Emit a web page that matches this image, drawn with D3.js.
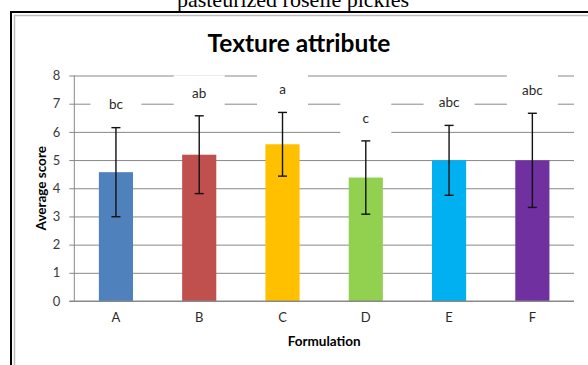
<!DOCTYPE html>
<html>
<head>
<meta charset="utf-8">
<script src="https://cdn.jsdelivr.net/npm/d3@7/dist/d3.min.js"></script>
<style>
  html, body { margin: 0; padding: 0; background: #fff; }
  svg { display: block; }
</style>
</head>
<body>
<svg id="chart" width="588" height="365"></svg>
<script>
// Texture scores per formulation (mean ± SD) with significance letters
const categories = ["A", "B", "C", "D", "E", "F"];
const means = [4.57, 5.19, 5.56, 4.38, 4.99, 4.99];
const sds = [1.58, 1.38, 1.13, 1.30, 1.24, 1.67];
const letters = ["bc", "ab", "a", "c", "abc", "abc"];
const colors = ["#4F81BD", "#C0504D", "#FFC000", "#92D050", "#00B0F0", "#7030A0"];
const yTicks = [0, 1, 2, 3, 4, 5, 6, 7, 8];

const svg = d3.select("#chart");
const font = "Lato, 'Open Sans', sans-serif";

// caption line of the figure, partly cut off at the top
svg.append("text")
  .attr("x", 293).attr("y", 7)
  .attr("text-anchor", "middle")
  .attr("font-family", "'Liberation Serif', 'Times New Roman', serif")
  .attr("font-size", 22)
  .attr("fill", "#000")
  .text("pasteurized roselle pickles");

// frame lines
svg.append("line").attr("x1", 10).attr("x2", 588).attr("y1", 12).attr("y2", 12)
  .attr("stroke", "#000").attr("stroke-width", 2);
svg.append("line").attr("x1", 11).attr("x2", 11).attr("y1", 11).attr("y2", 365)
  .attr("stroke", "#000").attr("stroke-width", 2);
svg.append("line").attr("x1", 14).attr("x2", 588).attr("y1", 15.5).attr("y2", 15.5)
  .attr("stroke", "#bdbdbd").attr("stroke-width", 1.5);
svg.append("line").attr("x1", 14.5).attr("x2", 14.5).attr("y1", 15).attr("y2", 365)
  .attr("stroke", "#bdbdbd").attr("stroke-width", 1.5);

const plot = { left: 74.3, right: 574, top: 75.5, bottom: 301 };

const x = d3.scaleBand()
  .domain(categories)
  .range([plot.left, plot.right])
  .paddingInner(0.59)
  .paddingOuter(0.295);

const y = d3.scaleLinear()
  .domain([0, 8])
  .range([plot.bottom, plot.top]);

// title
svg.append("text")
  .attr("x", 299).attr("y", 52)
  .attr("text-anchor", "middle")
  .attr("font-family", font)
  .attr("font-weight", "bold")
  .attr("font-size", 24.5)
  .attr("fill", "#000")
  .text("Texture attribute");

// horizontal gridlines through the y axis
const yAxis = d3.axisLeft(y)
  .tickValues(yTicks)
  .tickSize(-(plot.right - plot.left))
  .tickSizeOuter(0)
  .tickPadding(14)
  .tickFormat(d3.format("d"));

const gy = svg.append("g")
  .attr("transform", `translate(${plot.left},0)`)
  .call(yAxis);
gy.select(".domain").remove();
gy.selectAll(".tick line")
  .attr("x1", -5)
  .attr("stroke", "#888")
  .attr("stroke-width", 1);
gy.selectAll(".tick text")
  .attr("font-family", font)
  .attr("font-size", 13)
  .attr("fill", "#3a3a3a");

// vertical axis line
svg.append("line")
  .attr("x1", plot.left).attr("x2", plot.left)
  .attr("y1", y(8)).attr("y2", y(0))
  .attr("stroke", "#888").attr("stroke-width", 1);

const data = categories.map((c, i) => ({
  cat: c, mean: means[i], sd: sds[i], letter: letters[i], color: colors[i]
}));

const labelOffset = 23;
const labelY = d => y(d.mean + d.sd) - labelOffset;

// white label boxes that interrupt the gridlines
svg.append("g").selectAll("rect")
  .data(data).enter().append("rect")
  .attr("x", d => x(d.cat) + x.bandwidth() / 2 - 25.5)
  .attr("y", d => labelY(d) - 17.5)
  .attr("width", 51)
  .attr("height", 35)
  .attr("fill", "#fff");

// bars
svg.append("g").selectAll("rect")
  .data(data).enter().append("rect")
  .attr("x", d => x(d.cat))
  .attr("y", d => y(d.mean))
  .attr("width", x.bandwidth())
  .attr("height", d => y(0) - y(d.mean))
  .attr("fill", d => d.color);

// x axis line
svg.append("line")
  .attr("x1", plot.left - 5).attr("x2", plot.right)
  .attr("y1", y(0)).attr("y2", y(0))
  .attr("stroke", "#888").attr("stroke-width", 1);

// error bars
const err = svg.append("g").attr("stroke", "#111").attr("stroke-width", 1.4);
data.forEach(d => {
  const cx = x(d.cat) + x.bandwidth() / 2;
  const top = y(d.mean + d.sd), bot = y(d.mean - d.sd);
  err.append("line").attr("x1", cx).attr("x2", cx).attr("y1", top).attr("y2", bot);
  err.append("line").attr("x1", cx - 4.5).attr("x2", cx + 4.5).attr("y1", top).attr("y2", top);
  err.append("line").attr("x1", cx - 4.5).attr("x2", cx + 4.5).attr("y1", bot).attr("y2", bot);
});

// significance letters
svg.append("g").selectAll("text")
  .data(data).enter().append("text")
  .attr("x", d => x(d.cat) + x.bandwidth() / 2)
  .attr("y", d => labelY(d))
  .attr("dy", "0.35em")
  .attr("text-anchor", "middle")
  .attr("font-family", font)
  .attr("font-size", 13.5)
  .attr("fill", "#2a2a2a")
  .text(d => d.letter);

// category labels
const xAxis = d3.axisBottom(x).tickSize(0).tickPadding(12);
const gx = svg.append("g")
  .attr("transform", `translate(0,${y(0)})`)
  .call(xAxis);
gx.select(".domain").remove();
gx.selectAll(".tick text")
  .attr("font-family", font)
  .attr("font-size", 13)
  .attr("fill", "#2a2a2a");

// axis titles
svg.append("text")
  .attr("x", (plot.left + plot.right) / 2).attr("y", 346)
  .attr("text-anchor", "middle")
  .attr("font-family", font)
  .attr("font-weight", "bold")
  .attr("font-size", 13.5)
  .attr("fill", "#000")
  .text("Formulation");

svg.append("text")
  .attr("transform", `translate(46,${(plot.top + plot.bottom) / 2}) rotate(-90)`)
  .attr("text-anchor", "middle")
  .attr("font-family", font)
  .attr("font-weight", "bold")
  .attr("font-size", 13.5)
  .attr("fill", "#000")
  .text("Average score");
</script>
</body>
</html>
